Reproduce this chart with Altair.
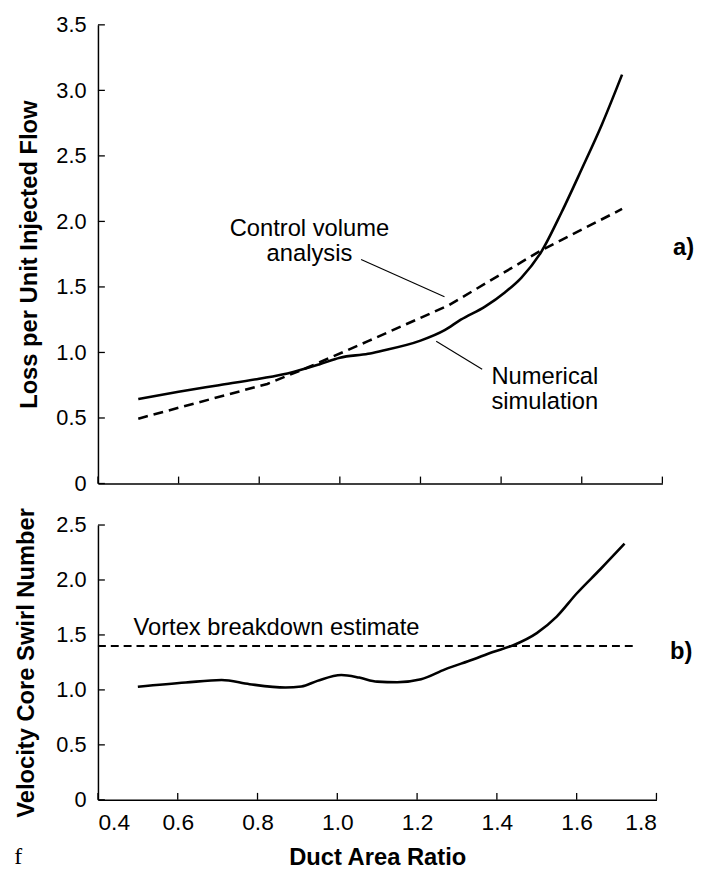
import altair as alt
import pandas as pd

FONT = "Liberation Sans"

# ---------------- data: panel a ----------------
num_x = [0.5, 0.6, 0.7, 0.8, 0.87, 0.95, 1.0, 1.07, 1.1, 1.2, 1.26, 1.3, 1.36, 1.41, 1.45, 1.5, 1.55, 1.6, 1.65, 1.7]
num_y = [0.645, 0.70, 0.75, 0.80, 0.84, 0.91, 0.96, 0.99, 1.01, 1.09, 1.17, 1.25, 1.35, 1.46, 1.57, 1.77, 2.07, 2.40, 2.74, 3.12]
cv_x = [0.5, 0.82, 0.92, 1.07, 1.27, 1.5, 1.7]
cv_y = [0.495, 0.76, 0.885, 1.086, 1.36, 1.78, 2.095]

# ---------------- data: panel b ----------------
sw_x = [0.5, 0.62, 0.71, 0.78, 0.87, 0.91, 0.95, 1.01, 1.055, 1.10, 1.15, 1.21, 1.27, 1.34, 1.39, 1.44, 1.50, 1.55, 1.60, 1.66, 1.72]
sw_y = [1.028, 1.067, 1.09, 1.052, 1.022, 1.031, 1.082, 1.135, 1.112, 1.075, 1.07, 1.097, 1.187, 1.277, 1.345, 1.405, 1.517, 1.667, 1.877, 2.10, 2.33]
vb_x = [0.4, 1.75]
vb_y = [1.4, 1.4]

x_ticks = [0.4, 0.6, 0.8, 1.0, 1.2, 1.4, 1.6, 1.8]
ya_ticks = [0, 0.5, 1.0, 1.5, 2.0, 2.5, 3.0, 3.5]
yb_ticks = [0, 0.5, 1.0, 1.5, 2.0, 2.5]

# annotations
ann_a_text = ["Control volume", "analysis"]
ann_a_x = [0.9245, 0.9245]
ann_a_y = [1.885, 1.695]
ann_a2_text = ["Numerical", "simulation"]
ann_a2_x = [1.376, 1.376]
ann_a2_y = [0.759, 0.571]
lead_x = [1.0527, 1.239]
lead_x2 = [1.2595, 1.353]
lead_y = [1.710, 1.086]
lead_y2 = [1.425, 0.872]
panel_a_label = ("a)", 1.8265, 1.74)
panel_b_label = ("b)", 1.834, 1.277)
vb_label = ("Vortex breakdown estimate", 0.489, 1.502)
stray = ("f", 0.19, -0.58)

W1 = 571
W2 = 565
H1 = 464
H2 = 278
TICK = 7

ylab = "datum.value == 0 ? '0' : format(datum.value, '.1f')"

xs = alt.Scale(domain=[0.4, 1.8], nice=False, zero=False)
ya_s = alt.Scale(domain=[0, 3.5], nice=False)
yb_s = alt.Scale(domain=[0, 2.5], nice=False)

common = dict(ticks=False, tickSize=0, grid=False, domainColor="black", domainWidth=1.5,
              labelFont=FONT, labelColor="black", titleFont=FONT, titleFontSize=24,
              titleFontWeight="bold", titleColor="black")

x_top = alt.X("x:Q", scale=xs, title=None,
              axis=alt.Axis(values=x_ticks, labels=False, **common))
x_bot = alt.X("x:Q", scale=xs, title="Duct Area Ratio",
              axis=alt.Axis(values=x_ticks, format=".1f", labelFontSize=23, labelPadding=12,
                            titlePadding=11, **common))
y_a = alt.Y("y:Q", scale=ya_s, title="Loss per Unit Injected Flow",
            axis=alt.Axis(values=ya_ticks, labelExpr=ylab, labelFontSize=22, labelPadding=12,
                          titlePadding=15, **common))
y_b = alt.Y("y:Q", scale=yb_s, title="Velocity Core Swirl Number",
            axis=alt.Axis(values=yb_ticks, labelExpr=ylab, labelFontSize=22, labelPadding=12,
                          titlePadding=18, **common))

def lines_df(xv, yv):
    return pd.DataFrame({"x": xv, "y": yv})

# ---------- panel a ----------
num_line = alt.Chart(lines_df(num_x, num_y)).mark_line(
    color="black", strokeWidth=2.6, interpolate="monotone").encode(x=x_top, y=y_a)
cv_line = alt.Chart(lines_df(cv_x, cv_y)).mark_line(
    color="black", strokeWidth=2.6, strokeDash=[10, 6]).encode(x=x_top, y=y_a)
xt_a = alt.Chart(pd.DataFrame({"x": x_ticks})).mark_rule(color="black", strokeWidth=1.3).encode(
    x=x_top, y=alt.value(H1), y2=alt.value(H1 - TICK))
yt_a = alt.Chart(pd.DataFrame({"y": ya_ticks})).mark_rule(color="black", strokeWidth=1.3).encode(
    y=y_a, x=alt.value(0), x2=alt.value(TICK))
txt_a1 = alt.Chart(pd.DataFrame({"x": ann_a_x, "y": ann_a_y, "t": ann_a_text})).mark_text(
    font=FONT, fontSize=24, align="center", baseline="alphabetic", color="black").encode(
    x=x_top, y=y_a, text="t:N")
txt_a2 = alt.Chart(pd.DataFrame({"x": ann_a2_x, "y": ann_a2_y, "t": ann_a2_text})).mark_text(
    font=FONT, fontSize=24, align="left", baseline="alphabetic", color="black").encode(
    x=x_top, y=y_a, text="t:N")
leaders = alt.Chart(pd.DataFrame({"x": lead_x, "x2": lead_x2, "y": lead_y, "y2": lead_y2})).mark_rule(
    color="black", strokeWidth=1.1).encode(x=x_top, x2="x2:Q", y=y_a, y2="y2:Q")
lab_a = alt.Chart(pd.DataFrame({"x": [panel_a_label[1]], "y": [panel_a_label[2]], "t": [panel_a_label[0]]})).mark_text(
    font=FONT, fontSize=24, fontWeight="bold", align="left", baseline="alphabetic", color="black").encode(
    x=x_top, y=y_a, text="t:N")

panel_a = alt.layer(num_line, cv_line, xt_a, yt_a, txt_a1, txt_a2, leaders, lab_a).properties(width=W1, height=H1)

# ---------- panel b ----------
sw_line = alt.Chart(lines_df(sw_x, sw_y)).mark_line(
    color="black", strokeWidth=2.6, interpolate="monotone").encode(x=x_bot, y=y_b)
vb_line = alt.Chart(lines_df(vb_x, vb_y)).mark_line(
    color="black", strokeWidth=2, strokeDash=[8, 5]).encode(x=x_bot, y=y_b)
xt_b = alt.Chart(pd.DataFrame({"x": x_ticks})).mark_rule(color="black", strokeWidth=1.3).encode(
    x=x_bot, y=alt.value(H2), y2=alt.value(H2 - TICK))
yt_b = alt.Chart(pd.DataFrame({"y": yb_ticks})).mark_rule(color="black", strokeWidth=1.3).encode(
    y=y_b, x=alt.value(0), x2=alt.value(TICK))
vb_txt = alt.Chart(pd.DataFrame({"x": [vb_label[1]], "y": [vb_label[2]], "t": [vb_label[0]]})).mark_text(
    font=FONT, fontSize=24, align="left", baseline="alphabetic", color="black").encode(
    x=x_bot, y=y_b, text="t:N")
lab_b = alt.Chart(pd.DataFrame({"x": [panel_b_label[1]], "y": [panel_b_label[2]], "t": [panel_b_label[0]]})).mark_text(
    font=FONT, fontSize=24, fontWeight="bold", align="left", baseline="alphabetic", color="black").encode(
    x=x_bot, y=y_b, text="t:N")
stray_txt = alt.Chart(pd.DataFrame({"x": [stray[1]], "y": [stray[2]], "t": [stray[0]]})).mark_text(
    font="Liberation Serif", fontSize=24, align="left", baseline="alphabetic", color="black").encode(
    x=x_bot, y=y_b, text="t:N")

panel_b = alt.layer(sw_line, vb_line, xt_b, yt_b, vb_txt, lab_b, stray_txt).properties(width=W2, height=H2)

chart = alt.vconcat(panel_a, panel_b, spacing=13).properties(
    padding={"left": 6, "top": 1, "right": 0, "bottom": 0},
    background="white",
).configure_view(stroke=None)

chart.save("out.html", embed_options={"renderer": "svg", "actions": False})
